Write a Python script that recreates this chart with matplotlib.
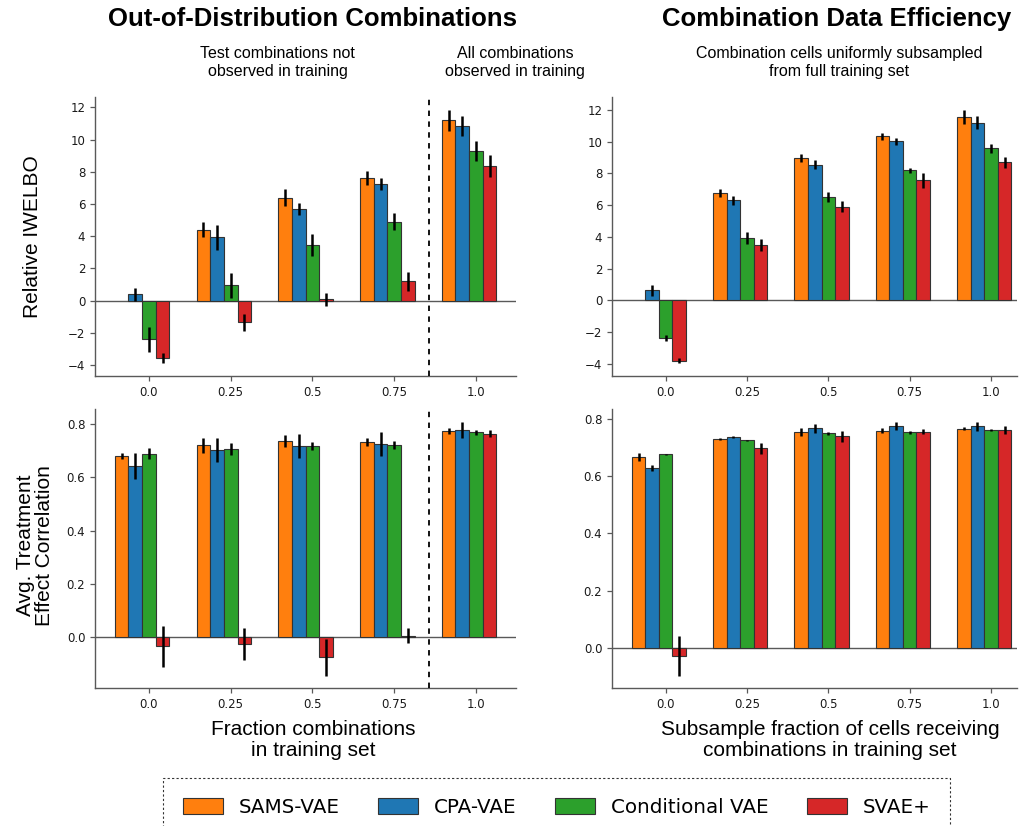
import numpy as np
import matplotlib
matplotlib.use("Agg")
import matplotlib.pyplot as plt
from matplotlib.patches import Patch

nan = np.nan

fractions = ["0.0", "0.25", "0.5", "0.75", "1.0"]
models = ["SAMS-VAE", "CPA-VAE", "Conditional VAE", "SVAE+"]
colors = ["#ff7f0e", "#1f77b4", "#2ca02c", "#d62728"]

# Relative IWELBO, out-of-distribution combinations (rows follow `models`)
ood_iwelbo = [
    [nan, 4.41, 6.40, 7.60, 11.20],
    [0.39, 3.93, 5.69, 7.23, 10.85],
    [-2.40, 0.95, 3.44, 4.90, 9.28],
    [-3.54, -1.35, 0.08, 1.20, 8.34],
]
ood_iwelbo_err = [
    [nan, 0.45, 0.54, 0.45, 0.64],
    [0.40, 0.77, 0.40, 0.36, 0.64],
    [0.80, 0.80, 0.67, 0.54, 0.63],
    [0.30, 0.50, 0.40, 0.58, 0.68],
]

# Relative IWELBO, combination data efficiency
eff_iwelbo = [
    [nan, 6.74, 8.97, 10.36, 11.55],
    [0.63, 6.30, 8.55, 10.04, 11.20],
    [-2.37, 3.91, 6.51, 8.19, 9.58],
    [-3.82, 3.47, 5.90, 7.56, 8.70],
]
eff_iwelbo_err = [
    [nan, 0.25, 0.23, 0.22, 0.42],
    [0.35, 0.30, 0.29, 0.22, 0.42],
    [0.18, 0.37, 0.31, 0.17, 0.28],
    [0.16, 0.38, 0.34, 0.46, 0.35],
]

# Average treatment effect correlation, out-of-distribution combinations
ood_corr = [
    [0.680, 0.720, 0.736, 0.732, 0.774],
    [0.642, 0.702, 0.717, 0.724, 0.778],
    [0.688, 0.706, 0.717, 0.721, 0.768],
    [-0.034, -0.025, -0.075, 0.006, 0.763],
]
ood_corr_err = [
    [0.011, 0.028, 0.021, 0.015, 0.012],
    [0.049, 0.046, 0.044, 0.046, 0.030],
    [0.021, 0.023, 0.016, 0.014, 0.008],
    [0.077, 0.060, 0.070, 0.029, 0.013],
]

# Average treatment effect correlation, combination data efficiency
eff_corr = [
    [0.666, 0.729, 0.753, 0.759, 0.765],
    [0.627, 0.736, 0.766, 0.774, 0.774],
    [0.676, 0.725, 0.749, 0.753, 0.760],
    [-0.028, 0.697, 0.739, 0.755, 0.760],
]
eff_corr_err = [
    [0.013, 0.003, 0.013, 0.010, 0.005],
    [0.010, 0.003, 0.015, 0.014, 0.015],
    [0.002, 0.002, 0.005, 0.005, 0.004],
    [0.069, 0.020, 0.020, 0.009, 0.014],
]

W, H = 1030, 826
fig = plt.figure(figsize=(W / 100, H / 100), dpi=100)

SANS = ["Liberation Sans", "DejaVu Sans"]
GRAY = "0.35"


def px_axes(left, right, top, bottom):
    return fig.add_axes([left / W, 1 - bottom / H, (right - left) / W, (bottom - top) / H])


def draw_bars(ax, means, errs, xlim, ylim, yticks, divider=None):
    x = np.arange(len(fractions))
    w = 0.167
    ax.axhline(0, color=GRAY, lw=1.0, zorder=1)
    for i, (m, e, c) in enumerate(zip(means, errs, colors)):
        ax.bar(x + (i - 2) * w, m, width=w, color=c, edgecolor="0.2", linewidth=0.8,
               yerr=e, error_kw=dict(ecolor="black", elinewidth=1.8, capsize=0),
               zorder=2)
    if divider is not None:
        ax.axvline(divider, color="black", lw=1.3, ls=(0, (3, 3)), zorder=3)
    ax.set_xticks(x)
    ax.set_xticklabels(fractions)
    ax.set_yticks(yticks)
    ax.set_xlim(*xlim)
    ax.set_ylim(*ylim)
    for s in ("top", "right"):
        ax.spines[s].set_visible(False)
    for s in ("left", "bottom"):
        ax.spines[s].set_color(GRAY)
        ax.spines[s].set_linewidth(1.0)
    ax.tick_params(axis="both", labelsize=8.5, color=GRAY, length=3.5, width=0.9,
                   labelcolor="0.1")


ax_tl = px_axes(95, 516, 97, 376)
ax_tr = px_axes(612, 1017, 97, 376)
ax_bl = px_axes(95, 516, 409, 688)
ax_br = px_axes(612, 1017, 409, 688)

iwelbo_ticks = [-4, -2, 0, 2, 4, 6, 8, 10, 12]
corr_ticks = [0.0, 0.2, 0.4, 0.6, 0.8]

draw_bars(ax_tl, ood_iwelbo, ood_iwelbo_err, (-0.66, 4.49), (-4.67, 12.64), iwelbo_ticks, divider=3.43)
draw_bars(ax_tr, eff_iwelbo, eff_iwelbo_err, (-0.66, 4.32), (-4.77, 12.82), iwelbo_ticks)
draw_bars(ax_bl, ood_corr, ood_corr_err, (-0.66, 4.49), (-0.19, 0.856), corr_ticks, divider=3.43)
draw_bars(ax_br, eff_corr, eff_corr_err, (-0.66, 4.32), (-0.139, 0.834), corr_ticks)

# y-axis labels
ax_tl.set_ylabel("Relative IWELBO", family=SANS, fontsize=15, ha="center", va="center")
ax_tl.yaxis.set_label_coords(-0.149, 0.5)
ax_bl.set_ylabel("Avg. Treatment\nEffect Correlation", family=SANS, fontsize=15,
                 ha="center", va="center", linespacing=1.0)
ax_bl.yaxis.set_label_coords(-0.142, 0.51)

# x-axis labels
ax_bl.set_xlabel("Fraction combinations\nin training set", family=SANS, fontsize=15,
                 ha="center", va="center", linespacing=1.15)
ax_bl.xaxis.set_label_coords((313 - 95) / 421, (688 - 740) / 279)
ax_br.set_xlabel("Subsample fraction of cells receiving\ncombinations in training set",
                 family=SANS, fontsize=15, ha="center", va="center", linespacing=1.15)
ax_br.xaxis.set_label_coords((830 - 612) / 405, (688 - 740) / 279)


def ftext(x, y, s, **kw):
    fig.text(x / W, 1 - y / H, s, ha="center", va="center", family=SANS, **kw)


ftext(312, 19, "Out-of-Distribution Combinations", fontsize=18.5, fontweight="bold")
ftext(837, 19, "Combination Data Efficiency", fontsize=18.5, fontweight="bold")
ftext(277.5, 62.5, "Test combinations not\nobserved in training", fontsize=11.5, linespacing=1.25)
ftext(515, 62.5, "All combinations\nobserved in training", fontsize=11.5, linespacing=1.25)
ftext(839, 62.5, "Combination cells uniformly subsampled\nfrom full training set", fontsize=11.5,
      linespacing=1.25)

handles = [Patch(facecolor=c, edgecolor="0.2", linewidth=0.8) for c in colors]
leg = fig.legend(handles, models, loc="upper left", bbox_to_anchor=(163 / W, 1 - 778 / H),
                 ncol=4, fontsize=14.3, frameon=True, fancybox=False,
                 handlelength=2.0, handleheight=0.85, handletextpad=0.8,
                 columnspacing=1.95, borderpad=1.0, borderaxespad=0)
frame = leg.get_frame()
frame.set_edgecolor("black")
frame.set_linestyle((0, (2, 2)))
frame.set_linewidth(0.8)

fig.savefig("out.png", dpi=100)
